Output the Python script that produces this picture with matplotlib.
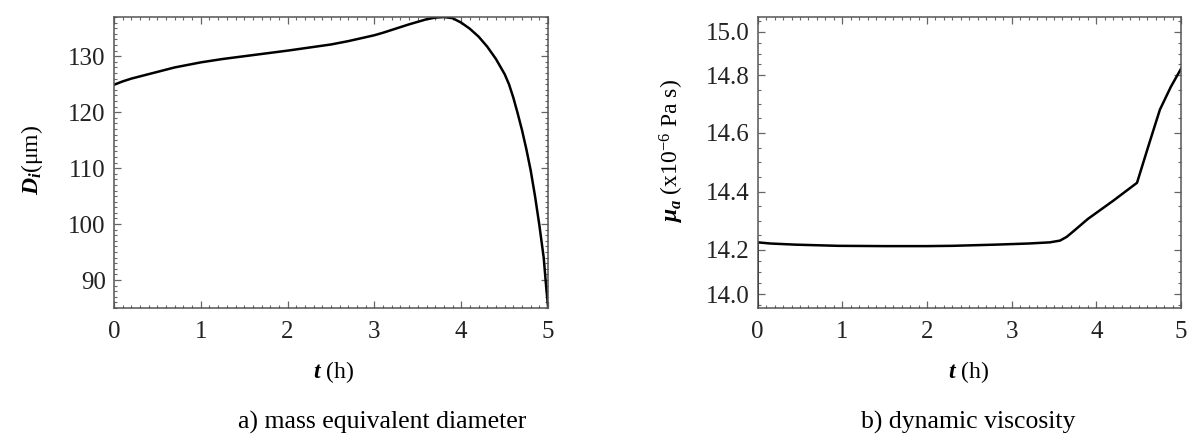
import numpy as np
import matplotlib
matplotlib.use("Agg")
import matplotlib.pyplot as plt
from matplotlib.ticker import MultipleLocator, FormatStrFormatter

plt.rcParams["font.family"] = ["Liberation Serif", "DejaVu Serif"]
plt.rcParams["mathtext.fontset"] = "custom"
plt.rcParams["mathtext.rm"] = "Liberation Serif"
plt.rcParams["mathtext.it"] = "Liberation Serif:italic:bold"
plt.rcParams["mathtext.bf"] = "Liberation Serif:bold"

# a) mass equivalent diameter
t_diam = [0.0, 0.1, 0.2, 0.35, 0.5, 0.7, 1.0, 1.25, 1.5, 2.0, 2.5, 2.6, 2.7, 2.8, 2.9,
          3.0, 3.1, 3.2, 3.3, 3.4, 3.5, 3.6, 3.7, 3.8, 3.9, 4.0, 4.1, 4.2, 4.3, 4.4,
          4.5, 4.55, 4.6, 4.65, 4.7, 4.75, 4.8, 4.85, 4.9, 4.95, 4.98, 5.0]
d_i = [124.9, 125.5, 126.0, 126.6, 127.2, 128.0, 128.9, 129.5, 130.0, 131.0, 132.1,
       132.4, 132.7, 133.05, 133.4, 133.75, 134.2, 134.7, 135.2, 135.7, 136.15, 136.6,
       136.9, 137.0, 136.8, 136.0, 134.9, 133.5, 131.7, 129.5, 126.8, 125.0, 122.6,
       119.8, 116.8, 113.4, 109.6, 105.0, 99.8, 94.0, 88.5, 85.3]

# b) dynamic viscosity (x1e-6 Pa s)
t_visc = [0.0, 0.0, 0.15, 0.45, 0.95, 1.5, 2.0, 2.3, 2.8, 3.2, 3.45, 3.57, 3.65, 3.72,
          3.9, 4.2, 4.48, 4.62, 4.75, 4.88, 5.0]
mu_a = [13.9, 14.226, 14.222, 14.218, 14.214, 14.213, 14.213, 14.214, 14.218, 14.222,
        14.226, 14.232, 14.245, 14.262, 14.307, 14.37, 14.431, 14.56, 14.68, 14.76, 14.83]

x_ticks = [0, 1, 2, 3, 4, 5]
d_ticks = [90, 100, 110, 120, 130]
mu_ticks = [14.0, 14.2, 14.4, 14.6, 14.8, 15.0]

# the original viscosity axis is not evenly spaced: outer bands are squeezed
mu_knots = [13.0, 14.0, 14.2, 14.4, 14.6, 14.8, 15.0, 16.0]
px_knots = [-221.5, 0.0, 44.3, 102.3, 161.7, 219.3, 262.7, 479.7]


def mu_fwd(v):
    return np.interp(v, mu_knots, px_knots)


def mu_inv(u):
    return np.interp(u, px_knots, mu_knots)


def style_axes(ax):
    for s in ax.spines.values():
        s.set_color("#555555")
        s.set_linewidth(1.1)
    ax.tick_params(which="both", direction="in", top=True, right=True,
                   colors="#666666", labelcolor="#222222", labelsize=18)
    ax.tick_params(which="major", length=5, width=0.9)
    ax.tick_params(which="minor", length=2.5, width=0.8)
    ax.tick_params(axis="x", which="major", pad=9)
    ax.tick_params(axis="y", which="major", pad=6)


fig = plt.figure(figsize=(12, 4.46), dpi=100)

ax1 = fig.add_axes([0.095, 0.3094, 0.3617, 0.653])
ax1.plot(t_diam, d_i, color="black", lw=1.8)
ax1.set_xlim(0, 5)
ax1.set_ylim(85, 137.05)
ax1.set_xticks(x_ticks)
ax1.set_yticks(d_ticks)
ax1.xaxis.set_minor_locator(MultipleLocator(0.1))
ax1.yaxis.set_minor_locator(MultipleLocator(1))
style_axes(ax1)
ax1.set_xlabel(r"$t$ (h)", fontsize=17)
ax1.set_ylabel(r"$D_i$(μm)", fontsize=17)
ax1.xaxis.set_label_coords(0.505, -0.175)
ax1.yaxis.set_label_coords(-0.158, 0.507)

ax2 = fig.add_axes([0.6314, 0.3094, 0.3528, 0.653])
ax2.set_yscale("function", functions=(mu_fwd, mu_inv))
ax2.plot(t_visc, mu_a, color="black", lw=1.8)
ax2.set_xlim(0, 5)
ax2.set_ylim(13.937, 15.07)
ax2.set_xticks(x_ticks)
ax2.set_yticks(mu_ticks)
ax2.yaxis.set_major_formatter(FormatStrFormatter("%.1f"))
ax2.xaxis.set_minor_locator(MultipleLocator(0.1))
ax2.yaxis.set_minor_locator(MultipleLocator(0.05))
style_axes(ax2)
ax2.set_xlabel(r"$t$ (h)", fontsize=17)
ax2.set_ylabel(r"$\mu_a$ (x10$^{-6}$ Pa s)", fontsize=17)
ax2.xaxis.set_label_coords(0.497, -0.175)
ax2.yaxis.set_label_coords(-0.17, 0.54)

fig.text(382 / 1200, 1 - 422 / 446, "a) mass equivalent diameter",
         ha="center", va="center", fontsize=18.5)
fig.text(968 / 1200, 1 - 422 / 446, "b) dynamic viscosity",
         ha="center", va="center", fontsize=18.5)

fig.savefig("out.png", dpi=100)
